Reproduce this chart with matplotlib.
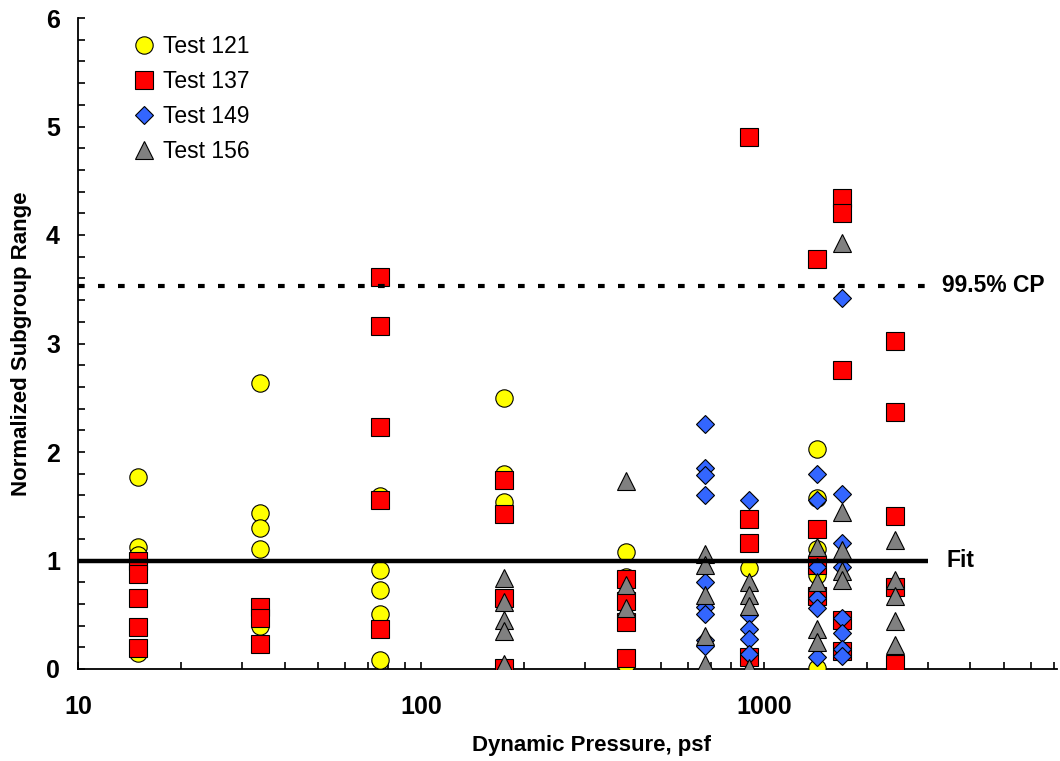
import numpy as np
import matplotlib
matplotlib.use('Agg')
import matplotlib.pyplot as plt
from matplotlib.ticker import LogLocator, NullFormatter, MultipleLocator, FixedLocator

plt.rcParams['font.family'] = ['Liberation Sans', 'DejaVu Sans']

# dynamic pressure (psf) and normalized subgroup range, one pair per point
q_121 = [15, 15, 15, 15,
         34, 34, 34, 34, 34,
         76, 76, 76, 76, 76,
         175, 175, 175,
         396, 396, 396,
         904,
         1425, 1425, 1425, 1425, 1425]
r_121 = [1.77, 1.12, 1.05, 0.15,
         2.64, 1.44, 1.30, 1.11, 0.40,
         1.59, 0.91, 0.73, 0.51, 0.08,
         2.50, 1.80, 1.54,
         1.08, 0.85, 0.05,
         0.93,
         2.03, 1.58, 1.11, 0.87, 0.01]

q_137 = [15, 15, 15, 15, 15,
         34, 34, 34,
         76, 76, 76, 76, 76,
         175, 175, 175, 175,
         396, 396, 396, 396,
         904, 904, 904, 904,
         1425, 1425, 1425, 1425,
         1687, 1687, 1687, 1687, 1687,
         2410, 2410, 2410, 2410, 2410]
r_137 = [1.00, 0.88, 0.65, 0.39, 0.19,
         0.57, 0.47, 0.23,
         3.61, 3.16, 2.23, 1.56, 0.37,
         1.74, 1.43, 0.65, 0.01,
         0.83, 0.63, 0.43, 0.10,
         4.90, 1.38, 1.16, 0.11,
         3.78, 1.29, 0.96, 0.67,
         4.34, 4.20, 2.76, 0.45, 0.17,
         3.02, 2.37, 1.41, 0.76, 0.05]

q_149 = [673, 673, 673, 673, 673, 673, 673, 673, 673,
         904, 904, 904, 904, 904,
         1425, 1425, 1425, 1425, 1425, 1425,
         1687, 1687, 1687, 1687, 1687, 1687, 1687, 1687]
r_149 = [2.26, 1.85, 1.79, 1.60, 0.80, 0.57, 0.51, 0.27, 0.21,
         1.56, 0.50, 0.37, 0.28, 0.14,
         1.80, 1.56, 0.94, 0.65, 0.56, 0.11,
         3.42, 1.61, 1.16, 0.94, 0.47, 0.33, 0.18, 0.12]

q_156 = [175, 175, 175, 175, 175,
         396, 396, 396,
         673, 673, 673, 673, 673,
         904, 904, 904, 904,
         1425, 1425, 1425, 1425,
         1687, 1687, 1687, 1687, 1687,
         2410, 2410, 2410, 2410, 2410]
r_156 = [0.84, 0.62, 0.45, 0.35, 0.05,
         1.73, 0.77, 0.56,
         1.06, 0.96, 0.68, 0.30, 0.05,
         0.80, 0.68, 0.58, 0.01,
         1.12, 0.80, 0.37, 0.25,
         3.93, 1.45, 1.10, 0.90, 0.82,
         1.19, 0.82, 0.67, 0.44, 0.22]

FIT = 1.0
CP_995 = 3.53
LINE_END = 3000

SERIES = [
    ('Test 121', q_121, r_121, 'o', '#ffff00', 12.5),
    ('Test 137', q_137, r_137, 's', '#ff0000', 12.5),
    ('Test 149', q_149, r_149, 'D', '#3366ff', 9.5),
    ('Test 156', q_156, r_156, '^', '#808080', 13),
]


def main():
    fig = plt.figure(figsize=(10.6, 7.61), dpi=100)
    ax = fig.add_axes([78 / 1060, 92 / 761, 979 / 1060, 651 / 761])

    for label, q, r, mk, color, ms in SERIES:
        ax.plot(q, r, linestyle='none', marker=mk, ms=ms, mfc=color,
                mec='black', mew=0.8, label=label, zorder=3)

    ax.plot([10, LINE_END], [FIT, FIT], color='black', lw=3.2, zorder=4,
            solid_capstyle='butt')
    ax.plot([10, LINE_END], [CP_995, CP_995], color='black', lw=3.0, zorder=4,
            dashes=(1.6, 3.2), dash_capstyle='butt')
    ax.text(3400, FIT, 'Fit', fontsize=16.5, fontweight='bold', va='center', ha='left')
    ax.text(3300, CP_995, '99.5% CP', fontsize=16.5, fontweight='bold', va='center', ha='left')

    ax.set_xscale('log')
    ax.set_xlim(10, 7150)
    ax.set_ylim(0, 6)
    ax.xaxis.set_major_locator(FixedLocator([10, 100, 1000]))
    ax.xaxis.set_major_formatter(plt.FuncFormatter(lambda v, p: f'{v:g}'))
    ax.xaxis.set_minor_locator(LogLocator(base=10, subs=np.arange(2, 10)))
    ax.xaxis.set_minor_formatter(NullFormatter())
    ax.yaxis.set_major_locator(MultipleLocator(1))
    ax.yaxis.set_minor_locator(MultipleLocator(0.2))

    ax.tick_params(which='both', direction='in', length=5, width=1.2, color='black')
    ax.tick_params(axis='x', which='major', pad=19, labelsize=18)
    ax.tick_params(axis='y', which='major', pad=13, labelsize=18)
    for t in ax.get_xticklabels() + ax.get_yticklabels():
        t.set_fontweight('bold')
        t.set_family(['Liberation Sans Narrow', 'Liberation Sans', 'DejaVu Sans'])

    for s in ['top', 'right']:
        ax.spines[s].set_visible(False)
    for s in ['left', 'bottom']:
        ax.spines[s].set_linewidth(1.3)

    ax.set_xlabel('Dynamic Pressure, psf', fontsize=16, fontweight='bold', va='center')
    ax.set_ylabel('Normalized Subgroup Range', fontsize=16, fontweight='bold')
    ax.xaxis.set_label_coords(0.525, -0.117)
    ax.yaxis.set_label_coords(-0.047, 0.5)

    fig.legend(loc='upper left', bbox_to_anchor=(133 / 1060, 1 - 35 / 761),
               frameon=False, fontsize=16.5, handlelength=1.0, handletextpad=0.3,
               borderpad=0, borderaxespad=0, labelspacing=0.52)

    fig.savefig('out.png', dpi=100)
    plt.close(fig)


if __name__ == '__main__':
    main()
